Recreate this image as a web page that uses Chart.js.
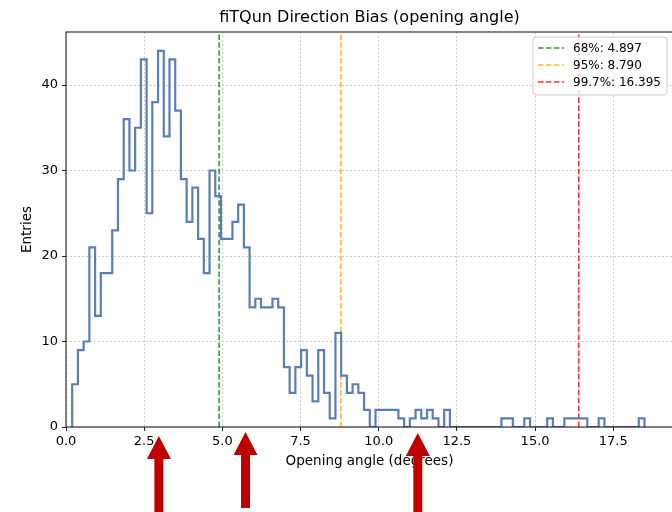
<!DOCTYPE html>
<html>
<head>
<meta charset="utf-8">
<title>fiTQun Direction Bias</title>
<script src="https://cdn.jsdelivr.net/npm/chart.js@4"></script>
<style>
  html, body { margin: 0; padding: 0; background: #fff; overflow: hidden; }
  #wrap { position: absolute; left: 0; top: 0; }
</style>
</head>
<body>
<div id="wrap"><canvas id="biasChart" width="680" height="512"></canvas></div>
<script>
// Histogram of opening angle, 100 equal bins
var binStart = 0.198;
var binWidth = 0.183;
var counts = [
  5, 9, 10, 21, 13, 18, 18, 23, 29, 36,
  30, 35, 43, 25, 38, 44, 34, 43, 37, 29,
  24, 28, 22, 18, 30, 27, 22, 22, 24, 26,
  21, 14, 15, 14, 14, 15, 14, 7, 4, 7,
  9, 6, 3, 9, 4, 1, 11, 6, 4, 5,
  4, 2, 0, 2, 2, 2, 2, 1, 0, 1,
  2, 1, 2, 1, 0, 2, 0, 0, 0, 0,
  0, 0, 0, 0, 0, 1, 1, 0, 0, 1,
  0, 0, 0, 1, 0, 0, 1, 1, 1, 1,
  0, 0, 1, 0, 0, 0, 0, 0, 0, 1
];

// Containment percentiles
var pctLabels = ["68%", "95%", "99.7%"];
var pctValues = [4.897, 8.790, 16.395];
var pctColors = ["rgba(0,128,0,0.8)", "rgba(255,165,0,0.8)", "rgba(255,0,0,0.8)"];

// Axis ranges and ticks
var xMax = 19.41;
var yMax = 46.2;
var xStep = 2.5;
var yStep = 10;

// Markers under the axis
var arrowAt = [2.97, 5.74, 11.25];
var arrowTip = [436, 432, 433];
var arrowEnd = [515, 508, 515];

var FONT = "'DejaVu Sans', 'Liberation Sans', sans-serif";
var DASH = [5.5, 2.4];

// step outline points at bin edges
var histPoints = [{ x: binStart, y: 0 }];
for (var i = 0; i < counts.length; i++) {
  histPoints.push({ x: binStart + i * binWidth, y: counts[i] });
}
var lastEdge = binStart + counts.length * binWidth;
histPoints.push({ x: lastEdge, y: counts[counts.length - 1] });
histPoints.push({ x: lastEdge, y: 0 });

var datasets = [{
  label: "hist",
  data: histPoints,
  borderColor: "#5a7fb6",
  borderWidth: 2.2,
  stepped: "before",
  pointRadius: 0,
  fill: false
}];
for (var j = 0; j < pctValues.length; j++) {
  datasets.push({
    label: pctLabels[j] + ": " + pctValues[j].toFixed(3),
    data: [{ x: pctValues[j], y: 0 }, { x: pctValues[j], y: yMax }],
    borderColor: pctColors[j],
    borderWidth: 1.6,
    borderDash: DASH,
    pointRadius: 0,
    fill: false
  });
}

var decorations = {
  id: "decorations",
  afterDraw: function (chart) {
    var ctx = chart.ctx;
    var a = chart.chartArea;
    var xs = chart.scales.x;
    ctx.save();

    // frame
    ctx.strokeStyle = "#222";
    ctx.lineWidth = 1.1;
    ctx.setLineDash([]);
    ctx.strokeRect(a.left, a.top, a.right - a.left, a.bottom - a.top);

    // title and axis labels
    ctx.fillStyle = "#000";
    ctx.textAlign = "center";
    ctx.textBaseline = "middle";
    ctx.font = "16px " + FONT;
    ctx.fillText("fiTQun Direction Bias (opening angle)", (a.left + a.right) / 2, 18);
    ctx.font = "13.5px " + FONT;
    ctx.fillText("Opening angle (degrees)", (a.left + a.right) / 2, 461);
    ctx.save();
    ctx.translate(27, (a.top + a.bottom) / 2);
    ctx.rotate(-Math.PI / 2);
    ctx.fillText("Entries", 0, 0);
    ctx.restore();

    // legend box
    var bx = a.right - 140, by = a.top + 5, bw = 134, bh = 58;
    ctx.beginPath();
    ctx.roundRect(bx, by, bw, bh, 3);
    ctx.fillStyle = "rgba(255,255,255,0.8)";
    ctx.fill();
    ctx.strokeStyle = "#cccccc";
    ctx.lineWidth = 1;
    ctx.stroke();
    ctx.font = "12px " + FONT;
    ctx.textAlign = "left";
    for (var k = 0; k < pctValues.length; k++) {
      var ry = by + 11 + k * 17;
      ctx.beginPath();
      ctx.setLineDash(DASH);
      ctx.strokeStyle = pctColors[k];
      ctx.lineWidth = 1.6;
      ctx.moveTo(bx + 5, ry);
      ctx.lineTo(bx + 31, ry);
      ctx.stroke();
      ctx.setLineDash([]);
      ctx.fillStyle = "#000";
      ctx.fillText(pctLabels[k] + ": " + pctValues[k].toFixed(3), bx + 40, ry + 1);
    }

    // red arrows pointing up at the axis
    ctx.fillStyle = "#c00000";
    for (var m = 0; m < arrowAt.length; m++) {
      var px = xs.getPixelForValue(arrowAt[m]);
      var tip = arrowTip[m];
      ctx.beginPath();
      ctx.moveTo(px, tip);
      ctx.lineTo(px + 12, tip + 23);
      ctx.lineTo(px + 4.5, tip + 23);
      ctx.lineTo(px + 4.5, arrowEnd[m]);
      ctx.lineTo(px - 4.5, arrowEnd[m]);
      ctx.lineTo(px - 4.5, tip + 23);
      ctx.lineTo(px - 12, tip + 23);
      ctx.closePath();
      ctx.fill();
    }
    ctx.restore();
  }
};

var ctx = document.getElementById("biasChart");
var biasChart = new Chart(ctx, {
  type: "line",
  data: { datasets: datasets },
  options: {
    responsive: false,
    animation: false,
    devicePixelRatio: 1,
    layout: { padding: { top: 32, right: 7, left: 0, bottom: 0 } },
    plugins: {
      legend: { display: false },
      title: { display: false },
      tooltip: { enabled: false }
    },
    scales: {
      x: {
        type: "linear",
        min: 0,
        max: xMax,
        afterFit: function (scale) { scale.height = 85; },
        border: { display: false, dash: [2, 2] },
        grid: {
          color: "rgba(176,176,176,0.8)",
          lineWidth: 0.8,
          tickColor: "#222",
          tickLength: 4,
          tickWidth: 1,
          tickBorderDash: [1, 0]
        },
        ticks: {
          stepSize: xStep,
          includeBounds: false,
          autoSkip: false,
          maxRotation: 0,
          padding: 3,
          color: "#000",
          font: { family: FONT, size: 13 },
          callback: function (v) { return v.toFixed(1); }
        }
      },
      y: {
        min: 0,
        max: yMax,
        afterFit: function (scale) { scale.width = 66; },
        border: { display: false, dash: [2, 2] },
        grid: {
          color: "rgba(176,176,176,0.8)",
          lineWidth: 0.8,
          tickColor: "#222",
          tickLength: 4,
          tickWidth: 1,
          tickBorderDash: [1, 0]
        },
        ticks: {
          stepSize: yStep,
          includeBounds: false,
          padding: 4,
          color: "#000",
          font: { family: FONT, size: 13 },
          callback: function (v) { return v.toFixed(0); }
        }
      }
    }
  },
  plugins: [decorations]
});
</script>
</body>
</html>
